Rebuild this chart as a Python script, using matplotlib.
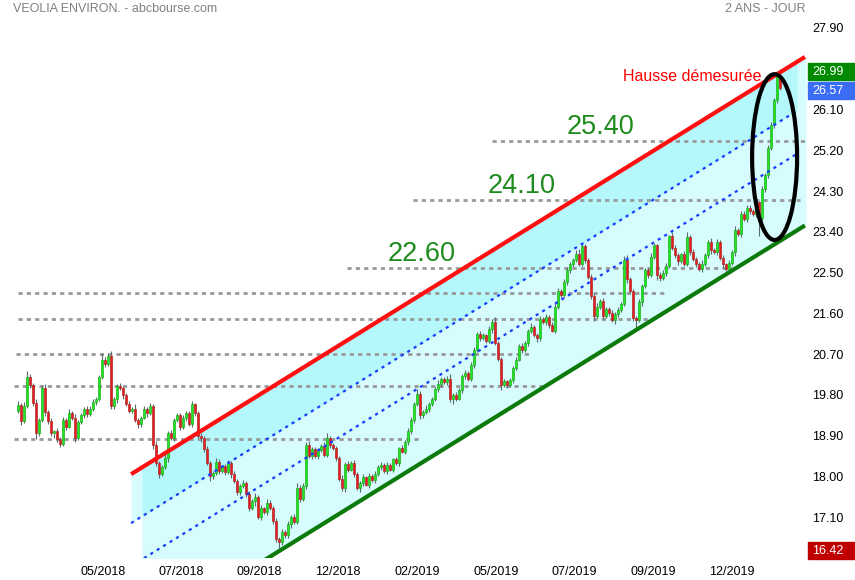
import numpy as np
import matplotlib
matplotlib.use("Agg")
import matplotlib.pyplot as plt
from matplotlib.patches import Ellipse, Rectangle
from matplotlib.transforms import blended_transform_factory

plt.rcParams["font.family"] = ["Liberation Sans", "DejaVu Sans"]

# daily candles, one per trading day (open = previous close)
first_open = 19.45
closes = [
    19.58, 19.22, 19.55, 20.20, 20.02, 19.62, 18.95, 19.25, 19.95, 19.42, 19.22, 18.95, 19.00, 18.82, 18.72,
    19.25, 19.10, 19.40, 19.30, 18.85, 19.20, 19.35, 19.50, 19.38, 19.48, 19.65, 19.72, 20.20, 20.58, 20.48,
    20.65, 19.55, 19.70, 20.00, 19.95, 19.80, 19.60, 19.45, 19.50, 19.25, 19.15, 19.30, 19.50, 19.40, 19.55,
    18.70, 18.30, 18.05, 18.20, 18.40, 18.95, 18.85, 19.25, 19.35, 19.10, 19.28, 19.40, 19.15, 19.60, 19.40,
    18.90, 18.85, 18.60, 18.30, 18.00, 18.08, 18.32, 18.12, 18.22, 18.10, 18.30, 18.05, 17.90, 17.65, 17.80,
    17.85, 17.62, 17.30, 17.45, 17.55, 17.10, 17.30, 17.22, 17.42, 17.30, 17.02, 16.62, 16.55, 16.78, 16.70,
    16.95, 17.10, 17.00, 17.75, 17.50, 17.80, 18.70, 18.45, 18.60, 18.45, 18.58, 18.68, 18.48, 18.85, 18.70,
    18.62, 18.40, 17.95, 17.75, 18.28, 18.15, 18.30, 18.05, 17.75, 17.85, 17.98, 17.82, 18.02, 17.92, 18.05,
    18.20, 18.25, 18.12, 18.25, 18.15, 18.38, 18.30, 18.62, 18.55, 18.75, 19.00, 19.25, 19.60, 19.82, 19.35,
    19.42, 19.50, 19.60, 19.72, 19.92, 20.05, 20.15, 20.08, 20.15, 19.70, 19.80, 19.72, 19.90, 20.22, 20.28,
    20.15, 20.45, 20.80, 21.15, 21.05, 21.12, 21.00, 21.25, 21.42, 20.95, 20.60, 20.02, 20.10, 20.02, 20.12,
    20.40, 20.58, 20.88, 20.80, 20.95, 21.20, 21.30, 21.12, 21.05, 21.48, 21.40, 21.52, 21.35, 21.22, 21.75,
    22.10, 22.00, 22.30, 22.55, 22.68, 22.78, 22.92, 22.70, 23.08, 22.78, 22.40, 21.98, 21.55, 21.75, 21.88,
    21.55, 21.70, 21.60, 21.45, 21.58, 21.68, 21.80, 22.78, 22.35, 22.10, 21.50, 21.45, 21.85, 22.20, 22.55,
    22.45, 22.85, 23.10, 22.45, 22.38, 22.50, 22.65, 23.30, 23.05, 22.88, 22.75, 22.90, 22.70, 23.28, 22.95,
    22.80, 22.68, 22.58, 22.70, 22.88, 23.18, 23.00, 22.95, 23.18, 22.82, 22.68, 22.58, 22.72, 22.95, 23.45,
    23.35, 23.80, 23.68, 23.92, 23.85, 23.80, 24.05, 23.70, 24.35, 24.65, 25.25, 25.75, 26.30, 26.85, 26.57,
]
# wick lengths above / below the body, in cents
wick_hi = [
    8, 5, 10, 12, 6, 4, 8, 5, 7, 10, 4, 6, 3, 8, 5,
    6, 4, 9, 5, 7, 4, 6, 3, 5, 8, 6, 4, 5, 15, 6,
    8, 12, 5, 4, 7, 3, 5, 6, 4, 9, 5, 3, 6, 4, 7,
    5, 8, 4, 6, 9, 5, 8, 3, 6, 4, 7, 5, 4, 6, 3,
    5, 6, 4, 7, 5, 4, 8, 6, 3, 5, 7, 4, 6, 5, 3,
    7, 4, 6, 5, 8, 4, 6, 3, 9, 5, 4, 6, 5, 7, 4,
    6, 5, 8, 10, 6, 5, 7, 8, 4, 6, 5, 3, 7, 10, 5,
    4, 6, 5, 8, 4, 7, 5, 6, 4, 5, 8, 3, 6, 4, 7,
    5, 6, 4, 7, 5, 3, 6, 4, 7, 5, 8, 6, 5, 10, 6,
    4, 7, 5, 3, 6, 8, 4, 5, 6, 12, 4, 6, 5, 4, 7,
    5, 8, 6, 4, 7, 5, 3, 8, 6, 10, 5, 4, 6, 3, 5,
    4, 6, 5, 7, 3, 6, 8, 4, 5, 7, 5, 6, 4, 5, 7,
    6, 4, 5, 8, 6, 4, 7, 10, 8, 5, 4, 6, 5, 7, 4,
    6, 5, 3, 7, 4, 6, 5, 8, 10, 6, 4, 5, 7, 4, 6,
    5, 8, 6, 4, 7, 5, 6, 4, 10, 5, 6, 4, 7, 12, 5,
    6, 4, 5, 7, 6, 5, 8, 4, 6, 5, 7, 4, 6, 5, 8,
    4, 6, 5, 7, 8, 5, 6, 4, 7, 5, 6, 8, 5, 10, 14,
]
wick_lo = [
    6, 8, 5, 4, 7, 6, 12, 5, 4, 8, 6, 5, 10, 6, 8,
    5, 7, 4, 6, 8, 5, 4, 7, 6, 5, 4, 8, 6, 5, 7,
    4, 6, 5, 7, 4, 8, 5, 6, 4, 5, 7, 6, 4, 8, 5,
    10, 6, 8, 5, 4, 7, 5, 6, 4, 8, 5, 6, 4, 5, 7,
    6, 8, 5, 4, 10, 6, 5, 7, 4, 6, 5, 8, 4, 6, 7,
    5, 8, 6, 4, 10, 5, 7, 4, 6, 5, 8, 6, 13, 6, 6,
    5, 8, 4, 6, 7, 5, 8, 4, 6, 5, 7, 4, 6, 5, 8,
    4, 6, 5, 8, 10, 6, 4, 7, 5, 10, 6, 4, 7, 5, 6,
    4, 6, 5, 7, 4, 6, 5, 8, 4, 6, 5, 7, 6, 4, 8,
    6, 5, 7, 4, 6, 5, 8, 4, 6, 5, 10, 6, 4, 5, 7,
    5, 4, 6, 5, 7, 4, 6, 5, 8, 4, 6, 12, 5, 7, 4,
    6, 5, 4, 7, 5, 6, 4, 5, 8, 6, 4, 5, 7, 4, 6,
    5, 6, 4, 7, 5, 6, 4, 5, 6, 7, 4, 6, 12, 5, 6,
    7, 5, 6, 4, 8, 5, 6, 4, 7, 5, 6, 20, 5, 8, 4,
    6, 5, 4, 12, 6, 5, 7, 4, 6, 5, 8, 4, 6, 5, 7,
    5, 6, 4, 7, 5, 6, 8, 4, 6, 5, 7, 4, 6, 5, 8,
    5, 6, 4, 7, 5, 6, 8, 40, 5, 6, 7, 5, 6, 5, 4,
]

# date axis (candle index of each label)
tick_pos = [28.3, 54.3, 80.3, 106.7, 133.0, 159.3, 185.3, 211.7, 238.0]
tick_labels = ["05/2018", "07/2018", "09/2018", "12/2018", "02/2019",
               "05/2019", "07/2019", "09/2019", "12/2019"]
price_ticks = [27.90, 26.10, 25.20, 24.30, 23.40, 22.50, 21.60, 20.70,
               19.80, 18.90, 18.00, 17.10]

# horizontal support / resistance levels
level_price = [25.40, 24.10, 22.60, 22.05, 21.48, 20.70, 20.00, 18.83]
level_from = [158.0, 131.7, 109.7, 0.0, 0.0, -0.7, -1.3, -1.3]
level_to = [262.7, 260.7, 238.3, 216.7, 211.7, 170.7, 175.0, 133.3]
level_text = ["25.40", "24.10", "22.60"]
level_text_x = [194.0, 168.0, 134.7]

# rising channel, given by two anchor candles
chan_x = [37.7, 262.3]
chan_top = [18.05, 27.26]
chan_mid1 = [16.97, 26.18]
chan_mid2 = [16.02, 25.23]
chan_bot = [14.33, 23.54]

badge_vals = [26.99, 26.57, 16.42]
badge_cols = ["#008a00", "#3b6cf4", "#c00000"]


def line_at(x, ys):
    return ys[0] + (ys[1] - ys[0]) * (np.asarray(x) - chan_x[0]) / (chan_x[1] - chan_x[0])


closes = np.array(closes)
n = len(closes)
opens = np.r_[first_open, closes[:-1]]
body_hi = np.maximum(opens, closes)
body_lo = np.minimum(opens, closes)
highs = body_hi + np.array(wick_hi) / 100
lows = body_lo - np.array(wick_lo) / 100
up = closes >= opens
xs = np.arange(n)

fig = plt.figure(figsize=(8.55, 5.8), dpi=100)
ax = fig.add_axes([0, 22 / 580, 808 / 855, 540 / 580])
ax.set_xlim(-6, 263.33)
ax.set_ylim(16.20, 28.12)
for s in ax.spines.values():
    s.set_visible(False)

# channel shading
xa = np.array([41.3, 259.7])
ax.fill_between([37.7, 41.3], line_at([37.7, 41.3], chan_mid1), line_at([37.7, 41.3], chan_top),
                color="#d6fcfd", lw=0, zorder=0)
xb = np.array([41.3, 262.7])
ax.fill_between(xb, line_at(xb, chan_bot), line_at(xb, chan_top), color="#d6fcfd", lw=0, zorder=0)
ax.fill_between(xa, line_at(xa, chan_mid1), line_at(xa, chan_top), color="#b4f8fc", lw=0, zorder=0)

# levels
for p, a, b in zip(level_price, level_from, level_to):
    ax.plot([a, b], [p, p], color="#999999", lw=2.0, ls=(0, (1.5, 1.5)), zorder=1)
for t, x in zip(level_text, level_text_x):
    ax.text(x, float(t) + 0.03, t, color="#1e8b1e", fontsize=19.5, ha="center", va="bottom", zorder=5)

# candles
ax.vlines(xs, lows, highs, color="#5b6b6b", lw=0.8, zorder=3)
face = np.where(up, "#22e622", "#e81c1c")
edge = np.where(up, "#1cb01c", "#b02a2a")
ax.bar(xs, np.maximum(body_hi - body_lo, 0.02), bottom=body_lo, width=0.9,
       color=face, edgecolor=edge, linewidth=0.5, zorder=4)

# channel lines
xl = np.array([37.7, 262.3])
xm = np.array([37.7, 259.7])
ax.plot(xm, line_at(xm, chan_mid1), color="#1a3cff", lw=1.6, ls=(0, (1.4, 2.0)), zorder=5)
ax.plot(xm, line_at(xm, chan_mid2), color="#1a3cff", lw=1.6, ls=(0, (1.4, 2.0)), zorder=5)
ax.plot(xl, line_at(xl, chan_top), color="#ff1010", lw=3.0, solid_capstyle="butt", zorder=5)
ax.plot(xl, line_at(xl, chan_bot), color="#0b7a0b", lw=3.0, solid_capstyle="butt", zorder=5)

ax.add_patch(Ellipse((252.2, 25.05), width=15, height=3.66, fill=False,
                     ec="black", lw=3.0, zorder=6))
ax.text(224.7, 26.82, "Hausse démesurée", color="#ff0000", fontsize=11.5,
        ha="center", va="center", zorder=6)

# axes
ax.yaxis.tick_right()
ax.set_yticks(price_ticks, [f"{v:.2f}" for v in price_ticks])
ax.set_xticks(tick_pos, tick_labels)
ax.tick_params(axis="y", length=0, pad=3, labelsize=9, labelcolor="black")
ax.tick_params(axis="x", length=0, pad=6, labelsize=9, labelcolor="black")

trans = blended_transform_factory(ax.transAxes, ax.transData)
bw = (855 - 808) / 808
bh = 17 / 45.3
for v, c in zip(badge_vals, badge_cols):
    yc = v - 0.06
    ax.add_patch(Rectangle((1.0, yc - bh / 2), bw, bh, transform=trans, color=c,
                           clip_on=False, zorder=7))
    ax.text(1.0 + 4 / 808, yc, f"{v:.2f}", transform=trans, color="white",
            fontsize=9, ha="left", va="center", zorder=8)

fig.text(13 / 855, 1 - 9 / 580, "VEOLIA ENVIRON. - abcbourse.com", color="#808080",
         fontsize=9, ha="left", va="center")
fig.text(806 / 855, 1 - 9 / 580, "2 ANS - JOUR", color="#808080",
         fontsize=9, ha="right", va="center")

fig.savefig("out.png", dpi=100)
